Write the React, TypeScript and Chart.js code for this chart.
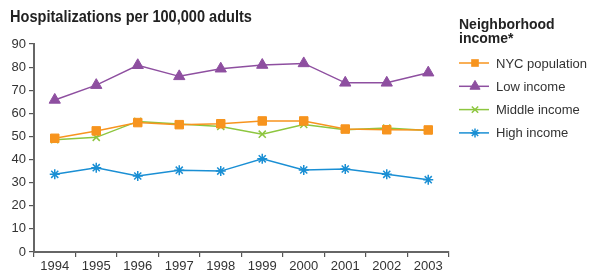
import { useEffect, useRef } from 'react';
import { Chart, registerables } from 'chart.js';

Chart.register(...registerables);

const years = ['1994', '1995', '1996', '1997', '1998', '1999', '2000', '2001', '2002', '2003'];
const nycPopulation = [49.2, 52.4, 56, 55.1, 55.5, 56.7, 56.7, 53.2, 52.9, 52.8];
const lowIncome = [65.8, 72.2, 80.8, 76, 79.3, 80.9, 81.6, 73.2, 73.2, 77.6];
const middleIncome = [48.6, 49.6, 56.5, 55.4, 54.3, 51, 55.2, 52.9, 53.6, 52.6];
const highIncome = [33.6, 36.5, 32.9, 35.4, 35, 40.3, 35.5, 35.9, 33.6, 31.3];

const seriesNames = ['NYC population', 'Low income', 'Middle income', 'High income'];
const seriesColors = ['#F7941E', '#8E4FA0', '#8DC63F', '#1A8FD4'];
const seriesStyles = ['rect', 'triangle', 'crossRot', 'star'];
const seriesRadius = [6, 6.5, 5, 5];

const titleText = 'Hospitalizations per 100,000 adults';
const legendTitle = ['Neighborhood', 'income*'];

const FONT = '"Liberation Sans", Arial, Helvetica, sans-serif';

function drawMarker(ctx: CanvasRenderingContext2D, style: string, r: number, x: number, y: number) {
  ctx.beginPath();
  if (style === 'rect') {
    const s = Math.SQRT1_2 * r;
    ctx.rect(x - s, y - s, 2 * s, 2 * s);
    ctx.fill();
  } else if (style === 'triangle') {
    const a = Math.PI / 2;
    ctx.moveTo(x, y - r);
    ctx.lineTo(x + Math.sin(a * 4 / 3) * r, y - Math.cos(a * 4 / 3) * r);
    ctx.lineTo(x + Math.sin(a * 8 / 3) * r, y - Math.cos(a * 8 / 3) * r);
    ctx.closePath();
    ctx.fill();
    ctx.stroke();
  } else if (style === 'crossRot') {
    const d = Math.SQRT1_2 * r;
    ctx.moveTo(x - d, y - d);
    ctx.lineTo(x + d, y + d);
    ctx.moveTo(x - d, y + d);
    ctx.lineTo(x + d, y - d);
    ctx.stroke();
  } else if (style === 'star') {
    const d = Math.SQRT1_2 * r;
    ctx.moveTo(x - d, y - d);
    ctx.lineTo(x + d, y + d);
    ctx.moveTo(x - d, y + d);
    ctx.lineTo(x + d, y - d);
    ctx.moveTo(x - r, y);
    ctx.lineTo(x + r, y);
    ctx.moveTo(x, y - r);
    ctx.lineTo(x, y + r);
    ctx.stroke();
  }
}

const overlayPlugin = {
  id: 'overlay',
  afterDraw(chart: any) {
    const ctx = chart.ctx;
    ctx.save();
    ctx.fillStyle = '#222';
    ctx.textBaseline = 'alphabetic';
    ctx.textAlign = 'left';
    ctx.save();
    ctx.translate(10, 22);
    ctx.scale(0.91, 1);
    ctx.font = 'bold 16px ' + FONT;
    ctx.fillText(titleText, 0, 0);
    ctx.restore();

    const lx = chart.chartArea.right + 10;
    ctx.font = 'bold 14px ' + FONT;
    ctx.fillText(legendTitle[0], lx, 29);
    ctx.fillText(legendTitle[1], lx, 43);

    ctx.font = '13px ' + FONT;
    ctx.textBaseline = 'middle';
    chart.data.datasets.forEach((ds: any, i: number) => {
      const y = 63 + i * 23.3;
      ctx.strokeStyle = ds.borderColor;
      ctx.lineWidth = 1.5;
      ctx.beginPath();
      ctx.moveTo(lx, y);
      ctx.lineTo(lx + 30, y);
      ctx.stroke();
      ctx.fillStyle = ds.pointBackgroundColor;
      ctx.strokeStyle = ds.pointBorderColor;
      ctx.lineWidth = ds.pointBorderWidth;
      drawMarker(ctx, ds.pointStyle, ds.pointRadius * 0.9, lx + 16, y);
      ctx.fillStyle = '#333';
      ctx.fillText(ds.label, lx + 37, y + 1);
    });
    ctx.restore();
  },
};

export default function App() {
  const ref = useRef<HTMLCanvasElement>(null);

  useEffect(() => {
    if (!ref.current) return;
    const values = [nycPopulation, lowIncome, middleIncome, highIncome];
    const chart = new Chart(ref.current, {
      type: 'line',
      data: {
        labels: years,
        datasets: values.map((v, i) => ({
          label: seriesNames[i],
          data: v,
          borderColor: seriesColors[i],
          backgroundColor: seriesColors[i],
          pointBackgroundColor: seriesColors[i],
          pointBorderColor: seriesColors[i],
          pointBorderWidth: i >= 2 ? 1.5 : 1,
          borderWidth: 1.5,
          pointStyle: seriesStyles[i] as any,
          pointRadius: seriesRadius[i],
          tension: 0,
          clip: false as any,
        })),
      },
      options: {
        responsive: false,
        animation: false,
        devicePixelRatio: 1,
        layout: { padding: { left: 0, top: 44, right: 148, bottom: 0 } },
        plugins: {
          legend: { display: false },
          tooltip: { enabled: false },
          title: { display: false },
        },
        scales: {
          x: {
            type: 'category',
            offset: true,
            afterFit: (s: any) => {
              s.height = 24;
            },
            grid: {
              offset: true,
              drawOnChartArea: false,
              drawTicks: true,
              tickLength: 5,
              color: '#555',
              lineWidth: 1.2,
            },
            border: { display: true, color: '#666', width: 2 },
            ticks: {
              color: '#333',
              font: { family: FONT, size: 13 },
              padding: 2,
              maxRotation: 0,
              autoSkip: false,
            },
          },
          y: {
            min: 0,
            max: 90,
            afterFit: (s: any) => {
              s.width = 34;
            },
            grid: {
              drawOnChartArea: false,
              drawTicks: true,
              tickLength: 5,
              color: '#555',
              lineWidth: 1.2,
            },
            border: { display: true, color: '#666', width: 2 },
            ticks: {
              stepSize: 10,
              color: '#333',
              font: { family: FONT, size: 13 },
              padding: 3,
            },
          },
        },
      },
      plugins: [overlayPlugin],
    });
    return () => chart.destroy();
  }, []);

  return (
    <div style={{ position: 'absolute', left: 0, top: 0, width: 597, height: 276, background: '#fff' }}>
      <canvas ref={ref} width={597} height={276} style={{ display: 'block' }} />
    </div>
  );
}
